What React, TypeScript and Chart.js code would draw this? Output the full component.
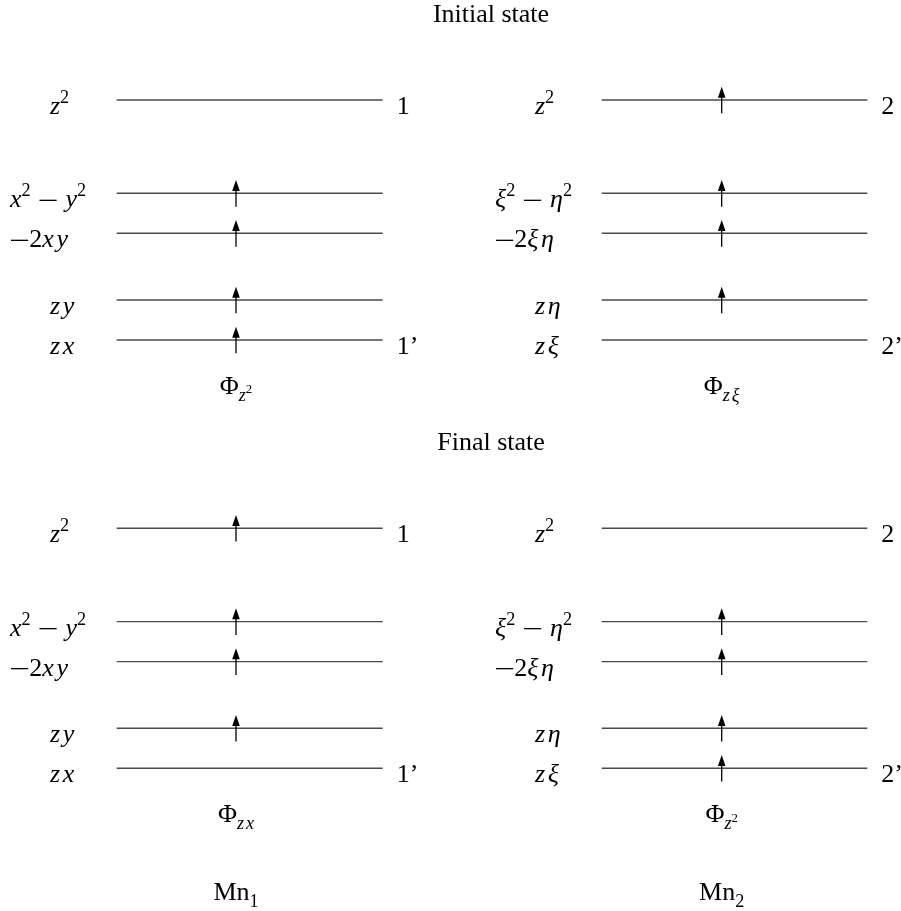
import React, { useEffect, useRef } from "react";
import { Chart, registerables } from "chart.js";

Chart.register(...registerables);

// ---------------- data ----------------
// d-orbital rows, top to bottom
const orbitalsMn1 = ["z^2", "x^2 − y^2", "−2xy", "zy", "zx"];
const orbitalsMn2 = ["z^2", "ξ^2 − η^2", "−2ξη", "zη", "zξ"];
// relative level energies (grid units, x²−y² = 0)
const levelEnergies = [7, 0, -3, -8, -11];
// spin-up occupancy per level
const initialMn1 = [0, 1, 1, 1, 1];
const initialMn2 = [1, 1, 1, 1, 0];
const finalMn1 = [1, 1, 1, 1, 0];
const finalMn2 = [0, 1, 1, 1, 1];
const stateTitles = ["Initial state", "Final state"];
const holeLabelsInitial = ["Φ_{z^2}", "Φ_{zξ}"];
const holeLabelsFinal = ["Φ_{zx}", "Φ_{z^2}"];
const siteLabels = ["Mn_1", "Mn_2"];
const tagsMn1 = ["1", "1’"]; // tag on top level, tag on bottom level
const tagsMn2 = ["2", "2’"];

// ---------------- layout ----------------
const W = 901;
const H = 911;
const PX_PER_UNIT = 40 / 3;
const ZERO_PX = 193.3;
const Y_MAX = ZERO_PX / PX_PER_UNIT;
const Y_MIN = (ZERO_PX - H) / PX_PER_UNIT;
const STATE_SHIFT = 428.3 / PX_PER_UNIT;
const COLS = [
  { start: 116.7, end: 382.7, arrow: 236 },
  { start: 601.7, end: 867.3, arrow: 721.7 },
];
const LABEL_INDENT = [66.7, 106.7, 106.7, 66.7, 66.7];
const FONT_SIZE = 26;
const FAMILY = '"Liberation Serif", "DejaVu Serif", serif';
const TITLE_X = 491;
const LINE_COLOR = "#4a4a4a";

type Seg = { text: string; italic: boolean; scale: number; dy: number };

function parseMath(s: string, upright: boolean, scale = 1, dy = 0): Seg[] {
  const out: Seg[] = [];
  let i = 0;
  const readGroup = (): string => {
    if (s[i] === "{") {
      let depth = 0;
      const startI = i;
      for (; i < s.length; i++) {
        if (s[i] === "{") depth++;
        else if (s[i] === "}") {
          depth--;
          if (depth === 0) {
            i++;
            return s.slice(startI + 1, i - 1);
          }
        }
      }
      return s.slice(startI + 1);
    }
    return s[i++];
  };
  while (i < s.length) {
    const c = s[i];
    if (c === "^") {
      i++;
      const g = readGroup();
      out.push(...parseMath(g, upright, scale * 0.7, dy - 0.42 * scale));
    } else if (c === "_") {
      i++;
      const g = readGroup();
      out.push(...parseMath(g, upright, scale * 0.7, dy + 0.27 * scale));
    } else {
      out.push({ text: c, italic: !upright && /[a-zα-ω]/.test(c), scale, dy });
      i++;
    }
  }
  return out;
}

function fontOf(seg: Seg, size: number) {
  return `${seg.italic ? "italic " : ""}${(size * seg.scale).toFixed(2)}px ${FAMILY}`;
}

function segWidth(ctx: CanvasRenderingContext2D, seg: Seg, next: Seg | undefined, upright: boolean) {
  const em = FONT_SIZE * seg.scale;
  if (!upright && seg.text === "−") return 0.74 * em;
  if (!upright && seg.text === " ") return 0.3 * em;
  ctx.font = fontOf(seg, FONT_SIZE);
  let w = ctx.measureText(seg.text).width;
  // math-italic letters sit a little wider, except before a script
  if (seg.italic && next && next.scale === seg.scale) w += 0.1 * em;
  return w;
}

function drawMath(
  ctx: CanvasRenderingContext2D,
  s: string,
  x: number,
  y: number,
  align: "left" | "center",
  upright = false
) {
  const segs = parseMath(s, upright);
  const widths = segs.map((seg, k) => segWidth(ctx, seg, segs[k + 1], upright));
  const w = widths.reduce((a, b) => a + b, 0);
  let cx = align === "center" ? x - w / 2 : x;
  ctx.textAlign = "left";
  ctx.textBaseline = "alphabetic";
  segs.forEach((seg, k) => {
    const em = FONT_SIZE * seg.scale;
    if (!upright && seg.text === "−") {
      ctx.fillRect(cx + 0.04 * em, y + seg.dy * FONT_SIZE - 0.27 * em - 0.6, 0.66 * em, 1.3);
    } else if (!(!upright && seg.text === " ")) {
      ctx.font = fontOf(seg, FONT_SIZE);
      ctx.fillText(seg.text, cx, y + seg.dy * FONT_SIZE);
    }
    cx += widths[k];
  });
}

const states = [
  { shift: 0, occ: [initialMn1, initialMn2], holes: holeLabelsInitial, title: stateTitles[0] },
  { shift: STATE_SHIFT, occ: [finalMn1, finalMn2], holes: holeLabelsFinal, title: stateTitles[1] },
];
const orbitals = [orbitalsMn1, orbitalsMn2];
const tags = [tagsMn1, tagsMn2];

const overlayPlugin = {
  id: "levelOverlay",
  afterDatasetsDraw(chart: any) {
    const ctx: CanvasRenderingContext2D = chart.ctx;
    const xs = chart.scales.x;
    const ys = chart.scales.y;
    ctx.save();
    ctx.fillStyle = "#000";
    ctx.strokeStyle = "#000";
    states.forEach((st, si) => {
      const topPx = ys.getPixelForValue(levelEnergies[0] - st.shift);
      const botPx = ys.getPixelForValue(levelEnergies[levelEnergies.length - 1] - st.shift);
      drawMath(ctx, st.title, TITLE_X, topPx - 78, "center", true);
      COLS.forEach((col, ci) => {
        const ax = xs.getPixelForValue(col.arrow);
        // spin arrows
        levelEnergies.forEach((e, li) => {
          if (!st.occ[ci][li]) return;
          const tip = ys.getPixelForValue(e - st.shift + 1);
          const tail = ys.getPixelForValue(e - st.shift - 1);
          const head = 11;
          ctx.lineWidth = 1.3;
          ctx.beginPath();
          ctx.moveTo(ax, tail);
          ctx.lineTo(ax, tip + head - 1);
          ctx.stroke();
          ctx.beginPath();
          ctx.moveTo(ax, tip);
          ctx.lineTo(ax - 3.8, tip + head);
          ctx.lineTo(ax + 3.8, tip + head);
          ctx.closePath();
          ctx.fill();
        });
        // orbital labels
        levelEnergies.forEach((e, li) => {
          const py = ys.getPixelForValue(e - st.shift);
          const lx = xs.getPixelForValue(col.start - LABEL_INDENT[li]);
          drawMath(ctx, orbitals[ci][li], lx, py + 14, "left");
        });
        // tags on the right
        const rx = xs.getPixelForValue(col.end + 14);
        drawMath(ctx, tags[ci][0], rx, topPx + 14, "left", true);
        drawMath(ctx, tags[ci][1], rx, botPx + 14, "left", true);
        // hole function label
        drawMath(ctx, st.holes[ci], ax, botPx + 54, "center");
        if (si === 1) {
          drawMath(ctx, siteLabels[ci], ax, botPx + 132, "center", true);
        }
      });
    });
    ctx.restore();
  },
};

function buildDatasets() {
  const ds: any[] = [];
  states.forEach((st) => {
    COLS.forEach((col) => {
      levelEnergies.forEach((e) => {
        ds.push({
          type: "line",
          data: [
            { x: col.start, y: e - st.shift },
            { x: col.end, y: e - st.shift },
          ],
          borderColor: LINE_COLOR,
          borderWidth: 1.4,
          pointRadius: 0,
          fill: false,
          tension: 0,
        });
      });
    });
  });
  return ds;
}

export default function App() {
  const ref = useRef<HTMLCanvasElement | null>(null);
  useEffect(() => {
    if (!ref.current) return;
    const chart = new Chart(ref.current, {
      type: "line",
      data: { datasets: buildDatasets() },
      options: {
        responsive: false,
        animation: false,
        devicePixelRatio: 1,
        layout: { padding: 0 },
        plugins: { legend: { display: false }, tooltip: { enabled: false }, title: { display: false } },
        scales: {
          x: { type: "linear", min: 0, max: W, display: false },
          y: { type: "linear", min: Y_MIN, max: Y_MAX, display: false },
        },
      },
      plugins: [overlayPlugin],
    } as any);
    return () => chart.destroy();
  }, []);
  return (
    <div style={{ position: "absolute", left: 0, top: 0, width: W, height: H, background: "#fff" }}>
      <canvas ref={ref} width={W} height={H} />
    </div>
  );
}
